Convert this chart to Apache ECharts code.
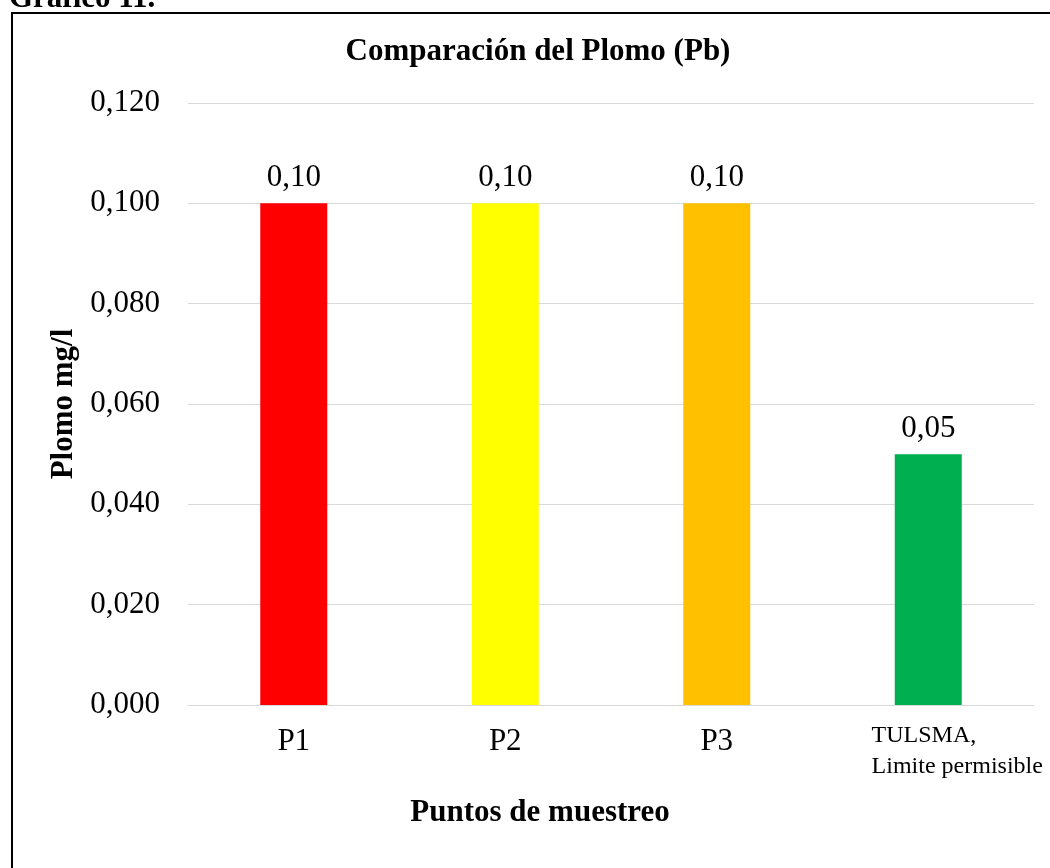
<!DOCTYPE html>
<html>
<head>
<meta charset="utf-8">
<title>Comparación del Plomo (Pb)</title>
<script src="https://cdn.jsdelivr.net/npm/echarts@6/dist/echarts.min.js"></script>
<style>
  html, body { margin: 0; padding: 0; background: #fff; }
  #chart { width: 1050px; height: 868px; }
</style>
</head>
<body>
<div id="chart"></div>
<script>
// datos del gráfico
const categories = ['P1', 'P2', 'P3', 'TULSMA, Limite permisible']
const plomoValues = [0.10, 0.10, 0.10, 0.05]
const barColors = ['#ff0000', '#ffff00', '#ffc000', '#00b050']
const yTicks = { min: 0, max: 0.12, step: 0.02 }

const serif = '"Liberation Serif", "Times New Roman", serif'
const chart = echarts.init(document.getElementById('chart'))

chart.setOption({
  backgroundColor: '#fff',
  animation: false,
  textStyle: { fontFamily: serif, color: '#000' },
  title: [{
    text: 'Comparación del Plomo (Pb)',
    left: 538,
    top: 36,
    padding: 0,
    textAlign: 'center',
    textStyle: { fontFamily: serif, fontSize: 31, fontWeight: 'bold', color: '#000' }
  }, {
    text: 'Puntos de muestreo',
    left: 540,
    top: 797,
    padding: 0,
    textAlign: 'center',
    textStyle: { fontFamily: serif, fontSize: 31, fontWeight: 'bold', color: '#000' }
  }],
  graphic: [{
    // marco del gráfico
    type: 'rect',
    shape: { x: 12, y: 13, width: 1100, height: 900 },
    style: { fill: 'none', stroke: '#000', lineWidth: 2 },
    silent: true
  }, {
    type: 'text',
    x: 9,
    y: 14,
    style: {
      text: 'Gráfico 11.',
      font: 'bold 31px ' + serif,
      fill: '#000',
      verticalAlign: 'bottom'
    },
    silent: true
  }],
  grid: {
    left: 188,
    right: 16,
    top: 103,
    bottom: 163
  },
  xAxis: {
    type: 'category',
    data: categories,
    axisLine: { lineStyle: { color: '#d9d9d9', width: 1 } },
    axisTick: { show: false },
    axisLabel: {
      interval: 0,
      margin: 15,
      formatter(v) {
        if (v.indexOf('TULSMA') === 0) {
          return '{t|TULSMA,}\n{t|Limite permisible}'
        }
        return '{p|' + v + '}'
      },
      rich: {
        p: { fontFamily: serif, fontSize: 31, color: '#000', padding: [6, 0, 0, 0] },
        t: { fontFamily: serif, fontSize: 24, lineHeight: 31, color: '#000', align: 'left', padding: [0, 0, 0, 58] }
      }
    }
  },
  yAxis: {
    type: 'value',
    min: yTicks.min,
    max: yTicks.max,
    interval: yTicks.step,
    name: 'Plomo mg/l',
    nameLocation: 'middle',
    nameGap: 104,
    nameTextStyle: { fontFamily: serif, fontSize: 31, fontWeight: 'bold', color: '#000' },
    axisLine: { show: false },
    axisTick: { show: false },
    axisLabel: {
      margin: 28,
      fontFamily: serif,
      fontSize: 31,
      color: '#000',
      formatter(v) {
        return v.toFixed(3).replace('.', ',')
      }
    },
    splitLine: { lineStyle: { color: '#d9d9d9', width: 1 } }
  },
  series: [{
    name: 'Plomo',
    type: 'bar',
    barWidth: 67,
    data: plomoValues.map((v, i) => ({ value: v, itemStyle: { color: barColors[i] } })),
    label: {
      show: true,
      position: 'top',
      distance: 10,
      fontFamily: serif,
      fontSize: 31,
      color: '#000',
      formatter(p) {
        return p.value.toFixed(2).replace('.', ',')
      }
    }
  }]
})
</script>
</body>
</html>
